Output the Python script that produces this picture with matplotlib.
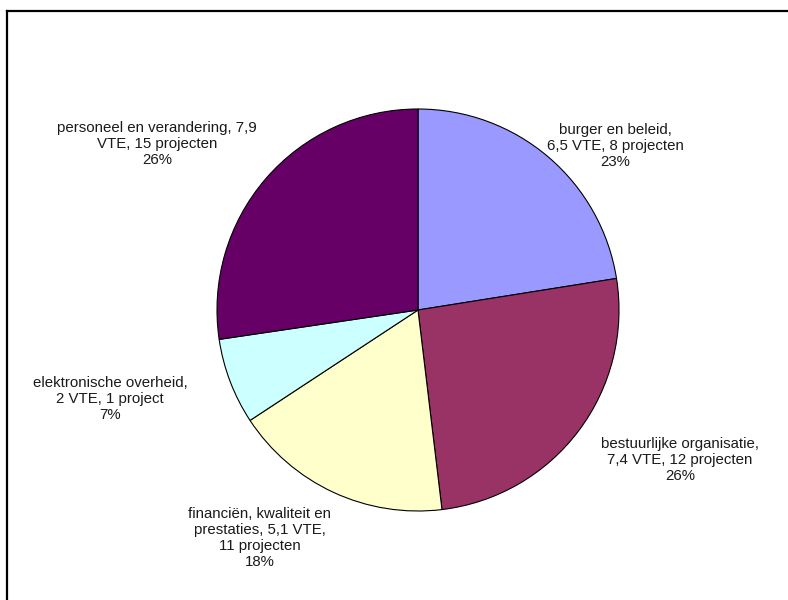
import matplotlib
matplotlib.use("Agg")
import matplotlib.pyplot as plt
from matplotlib.lines import Line2D

categories = ["burger en beleid", "bestuurlijke organisatie", "financiën, kwaliteit en prestaties",
              "elektronische overheid", "personeel en verandering"]
vte = [6.5, 7.4, 5.1, 2.0, 7.9]
labels = ["burger en beleid,\n6,5 VTE, 8 projecten\n23%",
          "bestuurlijke organisatie,\n7,4 VTE, 12 projecten\n26%",
          "financiën, kwaliteit en\nprestaties, 5,1 VTE,\n11 projecten\n18%",
          "elektronische overheid,\n2 VTE, 1 project\n7%",
          "personeel en verandering, 7,9\nVTE, 15 projecten\n26%"]
colors = ["#9999FF", "#993366", "#FFFFCC", "#CCFFFF", "#660066"]
label_pos = [(615, 146), (680, 460), (260, 538), (110, 399), (157, 144)]

plt.rcParams['font.family'] = ['Liberation Sans', 'DejaVu Sans']
W, H = 788, 600
fig = plt.figure(figsize=(W / 100, H / 100), dpi=100)
ax = fig.add_axes([0, 0, 1, 1])
ax.set_xlim(0, W)
ax.set_ylim(0, H)
ax.axis("off")

ax.pie(vte, colors=colors, startangle=90, counterclock=False,
       center=(418, H - 310), radius=201,
       wedgeprops=dict(edgecolor="black", linewidth=0.8))
ax.set_xlim(0, W)
ax.set_ylim(0, H)
ax.set_aspect("auto")

for lab, (x, y) in zip(labels, label_pos):
    ax.text(x, H - y, lab, ha="center", va="center", fontsize=10.8,
            color="#1a1a1a", linespacing=1.17, multialignment="center")

fig.add_artist(Line2D([7 / W, 7 / W], [0, 1 - 11 / H], color="black", lw=1.6, transform=fig.transFigure))
fig.add_artist(Line2D([7 / W, 1], [1 - 11 / H, 1 - 11 / H], color="black", lw=1.6, transform=fig.transFigure))

fig.savefig("out.png", dpi=100)
